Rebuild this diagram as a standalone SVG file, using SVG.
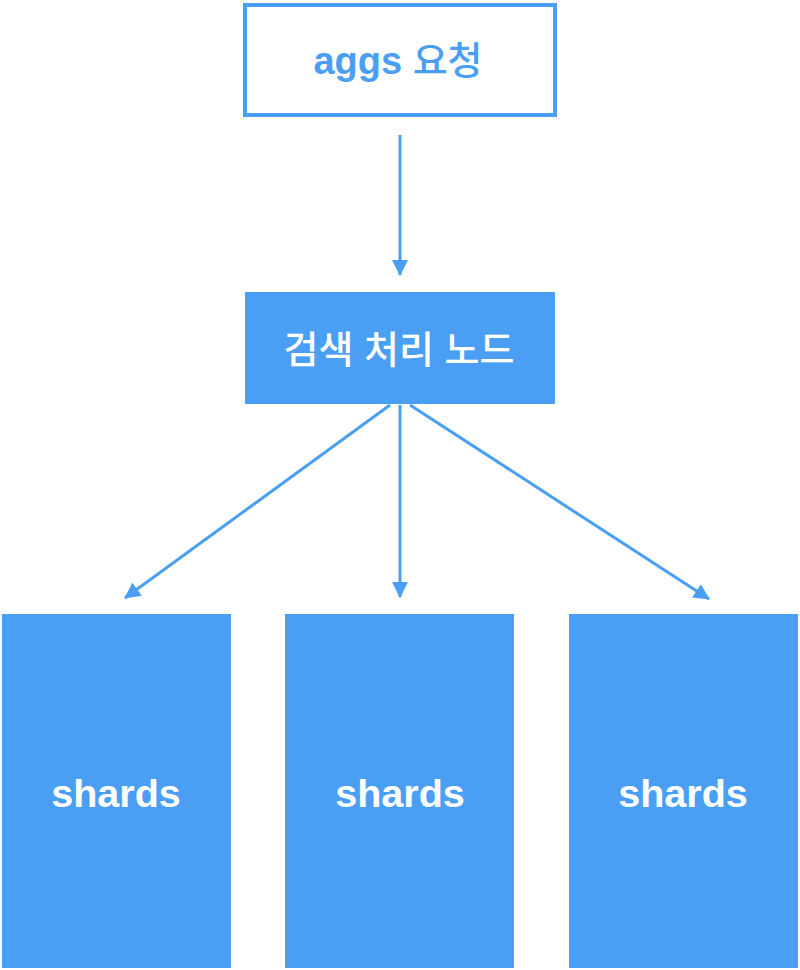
<svg xmlns="http://www.w3.org/2000/svg" width="800" height="970" viewBox="0 0 800 970">
<style>
.fill{fill:#4A9FF5}
.lbl{font-family:"Liberation Sans","Noto Sans CJK KR",sans-serif;text-anchor:middle}
.conn{stroke:#4A9FF5;stroke-width:3;fill:none}
</style>
<defs>
<marker id="ah" viewBox="0 0 16 16" refX="15" refY="8" markerWidth="16" markerHeight="16" markerUnits="userSpaceOnUse" orient="auto">
<path d="M0,0 L16,8 L0,16 Z" fill="#4A9FF5"/>
</marker>
</defs>
<rect width="800" height="970" fill="#fff"/>
<g id="request">
<rect x="245" y="5" width="310" height="110" fill="#fff" stroke="#4A9FF5" stroke-width="4"/>
<text class="lbl" x="398" y="74" font-size="38" font-weight="bold" fill="#4A9FF5">aggs <tspan font-weight="500">요청</tspan></text>
</g>
<g id="coord">
<rect class="fill" x="245" y="292" width="310" height="112"/>
<text class="lbl" x="399" y="363" font-size="38" font-weight="500" fill="#fff">검색 처리 노드</text>
</g>
<g id="shard1">
<rect class="fill" x="2" y="614" width="229" height="354"/>
<text class="lbl" x="116" y="807" font-size="39.5" font-weight="bold" fill="#fff">shards</text>
</g>
<g id="shard2">
<rect class="fill" x="285" y="614" width="229" height="354"/>
<text class="lbl" x="400" y="807" font-size="39.5" font-weight="bold" fill="#fff">shards</text>
</g>
<g id="shard3">
<rect class="fill" x="569" y="614" width="229" height="354"/>
<text class="lbl" x="683" y="807" font-size="39.5" font-weight="bold" fill="#fff">shards</text>
</g>
<g id="connectors">
<line class="conn" x1="400" y1="135" x2="400" y2="275" marker-end="url(#ah)"/>
<line class="conn" x1="390" y1="405" x2="125" y2="598" marker-end="url(#ah)"/>
<line class="conn" x1="400" y1="405" x2="400" y2="597" marker-end="url(#ah)"/>
<line class="conn" x1="410" y1="405" x2="709" y2="599" marker-end="url(#ah)"/>
</g>
</svg>
